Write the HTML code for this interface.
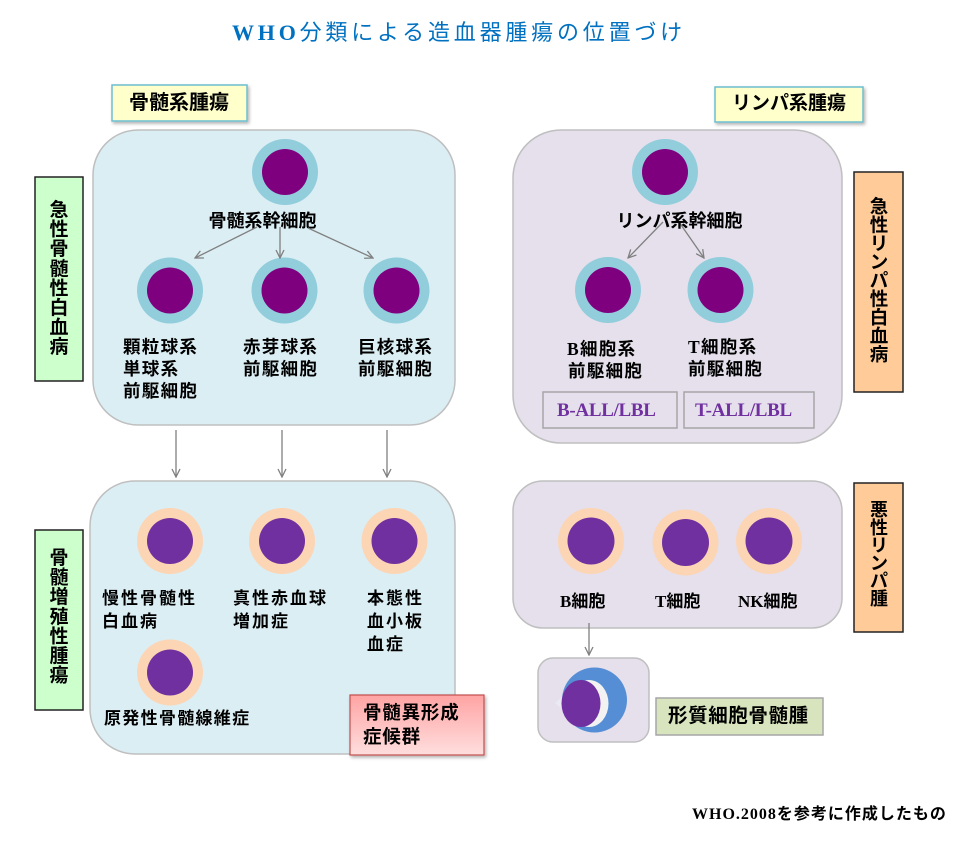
<!DOCTYPE html>
<html><head><meta charset="utf-8">
<style>
html,body{margin:0;padding:0;background:#fff;}
svg{display:block;}
.j{font-family:"Liberation Sans","Noto Sans CJK JP",sans-serif;font-weight:bold;fill:#000;}
.s{font-family:"Liberation Serif","Noto Sans CJK JP",serif;font-weight:bold;}
</style></head>
<body>
<svg width="960" height="845" viewBox="0 0 960 845" xmlns="http://www.w3.org/2000/svg">
<defs>
  <linearGradient id="pk" x1="0" y1="0" x2="0" y2="1">
    <stop offset="0" stop-color="#ffa4a4"/>
    <stop offset="1" stop-color="#ffdede"/>
  </linearGradient>
  <filter id="sh" x="-10%" y="-10%" width="130%" height="140%">
    <feDropShadow dx="1.5" dy="2" stdDeviation="1.5" flood-color="#000" flood-opacity="0.3"/>
  </filter>
  <marker id="ah" viewBox="0 0 10 10" refX="9" refY="5" markerWidth="10" markerHeight="10" markerUnits="userSpaceOnUse" orient="auto">
    <path d="M1,1 L9,5 L1,9" fill="none" stroke="#808080" stroke-width="1.3"/>
  </marker>
</defs>

<!-- Title -->
<text x="232" y="40" font-size="22" letter-spacing="3.8" fill="#0070c0" font-family="Liberation Sans, Noto Sans CJK JP, sans-serif"><tspan font-family="Liberation Serif, serif" font-weight="bold">WHO</tspan>分類による造血器腫瘍の位置づけ</text>

<!-- Category labels -->
<rect x="112" y="85" width="135" height="36" fill="#ffffcc" stroke="#6cbdd0" stroke-width="1.5" filter="url(#sh)"/>
<text class="j" x="129" y="109" font-size="20">骨髄系腫瘍</text>
<rect x="715" y="87" width="148" height="35" fill="#ffffcc" stroke="#6cbdd0" stroke-width="1.5" filter="url(#sh)"/>
<text class="j" x="732" y="109" font-size="19">リンパ系腫瘍</text>

<!-- Big boxes -->
<rect x="93" y="130" width="362" height="295" rx="45" ry="45" fill="#dbeef4" stroke="#bfbfbf" stroke-width="1.5"/>
<rect x="513" y="130" width="329" height="313" rx="48" ry="48" fill="#e5e0ec" stroke="#bfbfbf" stroke-width="1.5"/>
<rect x="90" y="481" width="365" height="273" rx="45" ry="45" fill="#dbeef4" stroke="#bfbfbf" stroke-width="1.5"/>
<rect x="513" y="481" width="329" height="147" rx="30" ry="30" fill="#e5e0ec" stroke="#bfbfbf" stroke-width="1.5"/>
<rect x="538" y="658" width="111" height="84" rx="15" ry="15" fill="#e5e0ec" stroke="#bfbfbf" stroke-width="1.5"/>

<!-- Vertical labels -->
<rect x="35" y="177" width="48" height="204" fill="#ccffcc" stroke="#222" stroke-width="1.5"/>
<g class="j" font-size="19" text-anchor="middle">
<text x="59" y="216">急</text><text x="59" y="235.6">性</text><text x="59" y="255.2">骨</text><text x="59" y="274.8">髄</text>
<text x="59" y="294.4">性</text><text x="59" y="314">白</text><text x="59" y="333.6">血</text><text x="59" y="353.2">病</text>
</g>
<rect x="854" y="172" width="49" height="220" fill="#ffcc99" stroke="#222" stroke-width="1.5"/>
<g class="j" font-size="18.5" text-anchor="middle">
<text x="879" y="213">急</text><text x="879" y="231.5">性</text><text x="879" y="250">リ</text><text x="879" y="268.5">ン</text>
<text x="879" y="287">パ</text><text x="879" y="305.5">性</text><text x="879" y="324">白</text><text x="879" y="342.5">血</text><text x="879" y="361">病</text>
</g>
<rect x="35" y="530" width="48" height="180" fill="#ccffcc" stroke="#222" stroke-width="1.5"/>
<g class="j" font-size="19" text-anchor="middle">
<text x="59" y="564">骨</text><text x="59" y="583.6">髄</text><text x="59" y="603.2">増</text><text x="59" y="622.8">殖</text>
<text x="59" y="642.4">性</text><text x="59" y="662">腫</text><text x="59" y="681.6">瘍</text>
</g>
<rect x="854" y="483" width="49" height="149" fill="#ffcc99" stroke="#222" stroke-width="1.5"/>
<g class="j" font-size="18" text-anchor="middle">
<text x="879" y="516">悪</text><text x="879" y="533.8">性</text><text x="879" y="551.6">リ</text><text x="879" y="569.4">ン</text>
<text x="879" y="587.2">パ</text><text x="879" y="605">腫</text>
</g>

<!-- Top-left circles -->
<g>
<circle cx="285" cy="172" r="33" fill="#92cddc"/><circle cx="285" cy="172" r="23" fill="#7f007f"/>
<circle cx="170" cy="290.5" r="33" fill="#92cddc"/><circle cx="170" cy="290.5" r="23" fill="#7f007f"/>
<circle cx="284.5" cy="290.5" r="33" fill="#92cddc"/><circle cx="284.5" cy="290.5" r="23" fill="#7f007f"/>
<circle cx="396.5" cy="290.5" r="33" fill="#92cddc"/><circle cx="396.5" cy="290.5" r="23" fill="#7f007f"/>
</g>
<text class="j" x="262.5" y="227" font-size="18" text-anchor="middle">骨髄系幹細胞</text>
<g class="j" font-size="17.5" letter-spacing="1.3">
<text x="123" y="353">顆粒球系</text><text x="123" y="375">単球系</text><text x="123" y="397">前駆細胞</text>
<text x="243" y="353">赤芽球系</text><text x="243" y="375">前駆細胞</text>
<text x="358" y="353">巨核球系</text><text x="358" y="375">前駆細胞</text>
</g>
<g stroke="#808080" stroke-width="1.3" fill="none" marker-end="url(#ah)">
<line x1="257" y1="227" x2="195" y2="258"/>
<line x1="280" y1="227" x2="280" y2="258"/>
<line x1="308" y1="228" x2="373" y2="258"/>
<line x1="663" y1="222" x2="628" y2="258"/>
<line x1="679" y1="222" x2="704" y2="258"/>
<line x1="176" y1="430" x2="176" y2="477"/>
<line x1="282" y1="430" x2="282" y2="477"/>
<line x1="387" y1="430" x2="387" y2="477"/>
<line x1="589" y1="623" x2="589" y2="655"/>
</g>

<!-- Top-right circles -->
<circle cx="665" cy="172" r="33" fill="#92cddc"/><circle cx="665" cy="172" r="23" fill="#7f007f"/>
<circle cx="608" cy="290" r="33" fill="#92cddc"/><circle cx="608" cy="290" r="23" fill="#7f007f"/>
<circle cx="720.5" cy="290" r="33" fill="#92cddc"/><circle cx="720.5" cy="290" r="23" fill="#7f007f"/>
<text class="j" x="679.5" y="227" font-size="18" text-anchor="middle">リンパ系幹細胞</text>
<g class="j" font-size="17.5" letter-spacing="1.3">
<text x="567" y="355"><tspan class="s">B</tspan>細胞系</text><text x="568" y="377">前駆細胞</text>
<text x="688" y="353"><tspan class="s">T</tspan>細胞系</text><text x="688" y="375">前駆細胞</text>
</g>
<rect x="543" y="392" width="134" height="36" fill="#e5e0ec" stroke="#a6a6a6" stroke-width="1.5"/>
<rect x="684" y="392" width="130" height="36" fill="#e5e0ec" stroke="#a6a6a6" stroke-width="1.5"/>
<text class="s" x="557" y="416" font-size="19" fill="#7030a0" letter-spacing="-0.3">B-ALL/LBL</text>
<text class="s" x="695" y="416" font-size="19" fill="#7030a0" letter-spacing="-0.3">T-ALL/LBL</text>

<!-- Bottom-left circles -->
<circle cx="170" cy="541" r="33" fill="#fcd5b5"/><circle cx="170" cy="541" r="23" fill="#7030a0"/>
<circle cx="282" cy="541" r="33" fill="#fcd5b5"/><circle cx="282" cy="541" r="23" fill="#7030a0"/>
<circle cx="394.5" cy="541" r="33" fill="#fcd5b5"/><circle cx="394.5" cy="541" r="23" fill="#7030a0"/>
<circle cx="170" cy="672.5" r="33" fill="#fcd5b5"/><circle cx="170" cy="672.5" r="23" fill="#7030a0"/>
<g class="j" font-size="17" letter-spacing="2">
<text x="102" y="604">慢性骨髄性</text><text x="102" y="627">白血病</text>
<text x="233" y="604">真性赤血球</text><text x="233" y="627">増加症</text>
<text x="367" y="604">本態性</text><text x="367" y="627">血小板</text><text x="367" y="650">血症</text>
<text x="104" y="724" letter-spacing="1.3">原発性骨髄線維症</text>
</g>
<rect x="350" y="695" width="134" height="60" fill="url(#pk)" stroke="#c0504d" stroke-width="1.2" filter="url(#sh)"/>
<g class="j" font-size="18.5" letter-spacing="0.8">
<text x="363" y="719">骨髄異形成</text><text x="363" y="743">症候群</text>
</g>

<!-- Bottom-right circles -->
<circle cx="591" cy="541" r="33" fill="#fcd5b5"/><circle cx="591" cy="541" r="23.5" fill="#7030a0"/>
<circle cx="685.5" cy="542.5" r="33" fill="#fcd5b5"/><circle cx="685.5" cy="542.5" r="23.5" fill="#7030a0"/>
<circle cx="769" cy="541" r="33" fill="#fcd5b5"/><circle cx="769" cy="541" r="23.5" fill="#7030a0"/>
<g class="j" font-size="17">
<text x="560" y="607"><tspan class="s">B</tspan>細胞</text>
<text x="655" y="607"><tspan class="s">T</tspan>細胞</text>
<text x="738" y="607"><tspan class="s">NK</tspan>細胞</text>
</g>

<!-- Plasma cell -->
<circle cx="594.5" cy="700" r="32.5" fill="#558ed5"/>
<polygon points="555,703 562,697 562,709" fill="#ebe9f2"/>
<ellipse cx="589" cy="703.5" rx="19.5" ry="23.5" fill="#f2f2f2"/>
<ellipse cx="581" cy="703.5" rx="19.5" ry="23.5" fill="#7030a0"/>

<rect x="656" y="698" width="167" height="37" fill="#d7e4bd" stroke="#a6a6a6" stroke-width="1.5"/>
<text class="j" x="668" y="722" font-size="19.5" letter-spacing="0.6">形質細胞骨髄腫</text>

<!-- Footer -->
<text class="j" x="692" y="819" font-size="16" letter-spacing="1"><tspan class="s">WHO.2008</tspan>を参考に作成したもの</text>
</svg>
</body></html>
